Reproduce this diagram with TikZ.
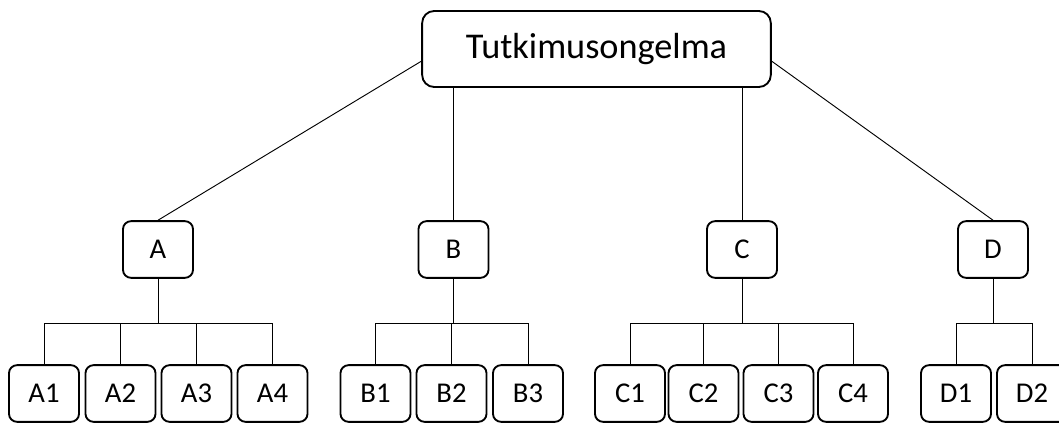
\documentclass[tikz,border=0pt]{standalone}
\usepackage{fontspec}
\setmainfont{Carlito}
\usetikzlibrary{positioning,calc}

\begin{document}
\begin{tikzpicture}[x=0.75pt,y=-0.75pt,
    topbox/.style={draw, line width=1.4pt, rounded corners=9pt, inner sep=0pt,
        minimum width=261.5pt, minimum height=57pt, font=\fontsize{27.2}{30}\selectfont},
    midbox/.style={draw, line width=1.4pt, rounded corners=6pt, inner sep=0pt,
        minimum width=52.5pt, minimum height=42.5pt, font=\fontsize{21.5}{24}\selectfont},
    leafbox/.style={midbox},
    conn/.style={line width=0.7pt}]
    \clip (0,0) rectangle (1059,423);

    % Research problem
    \node[topbox] (top) at (596.5,49) {Tutkimusongelma};

    % Sub-problems
    \foreach \n/\x in {A/158, B/453.5, C/742, D/993} {
        \node[midbox] (\n) at (\x,249.5) {\n};
    }
    \draw[conn] (top.184) -- (A.north);
    \draw[conn] (top.south -| B) -- (B.north);
    \draw[conn] (top.south -| C) -- (C.north);
    \draw[conn] (top.356) -- (D.north);

    % Branch line level
    \coordinate (busline) at (0,323);

    % Leaves
    \foreach \n/\x in {A1/44, A2/120.5, A3/196.5, A4/272.5,
                       B1/375.5, B2/451.5, B3/528,
                       C1/630, C2/703.5, C3/778.5, C4/853,
                       D1/956, D2/1032} {
        \node[leafbox] (\n) at (\x,393.5) {\n};
        \draw[conn] (\n.north) -- (\n |- busline);
    }

    % Branches
    \foreach \p/\f/\l in {A/A1/A4, B/B1/B3, C/C1/C4, D/D1/D2} {
        \draw[conn] (\p.south) -- (\p |- busline);
        \draw[conn] (\f |- busline) -- (\l |- busline);
    }
\end{tikzpicture}
\end{document}
